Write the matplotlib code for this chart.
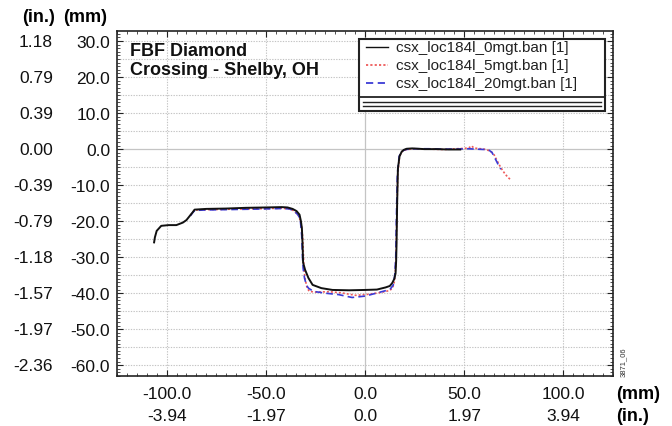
import matplotlib
matplotlib.use("Agg")
import matplotlib.pyplot as plt
from matplotlib.ticker import MultipleLocator
from matplotlib.transforms import blended_transform_factory
from matplotlib.lines import Line2D
from matplotlib.patches import Rectangle

plt.rcParams['font.family'] = ['Liberation Sans', 'DejaVu Sans']

# ---------------- data (mm) ----------------
x_0mgt = [-106.3, -105.9, -105.0, -102.7, -99.0, -95.1, -91.8, -90.0, -88.4, -86.8, -85.9, -80.0,
          -70.0, -60.0, -50.0, -42.0, -39.0, -36.5, -34.5, -33.0, -32.3, -31.8, -31.5, -31.2,
          -30.2, -28.5, -26.4, -22.0, -16.4, -8.0, 0.3, 6.0, 10.4, 12.5, 13.7, 14.8, 15.4, 15.7,
          15.9, 16.2, 16.6, 17.4, 18.5, 19.6, 21.0, 23.8, 30.0, 36.0, 42.0, 48.0]
y_0mgt = [-25.9, -24.5, -22.7, -21.3, -21.1, -21.1, -20.4, -19.7, -18.6, -17.5, -16.8, -16.6,
          -16.5, -16.3, -16.2, -16.1, -16.2, -16.6, -17.2, -18.2, -20.0, -22.0, -26.0, -31.5,
          -33.5, -35.8, -37.7, -38.6, -39.1, -39.2, -39.1, -39.0, -38.4, -38.0, -37.2, -36.0,
          -34.5, -31.0, -26.3, -15.0, -5.4, -2.0, -0.7, -0.2, 0.1, 0.2, 0.0, 0.0, -0.1, -0.1]

x_5mgt = [-88.0, -86.5, -85.5, -80.0, -70.0, -60.0, -50.0, -42.0, -38.0, -35.5, -33.5, -32.2,
          -31.5, -31.0, -30.8, -30.2, -29.2, -28.1, -25.0, -18.1, -12.0, -4.7, 2.0, 8.0, 12.1,
          13.6, 14.6, 15.2, 15.6, 16.0, 16.5, 17.4, 18.8, 21.0, 25.0, 32.0, 40.0, 46.0, 50.0,
          52.5, 53.6, 55.0, 60.0, 63.0, 64.8, 66.2, 67.5, 69.0, 70.7, 72.4, 73.2]
y_5mgt = [-18.4, -17.3, -16.9, -16.8, -16.7, -16.6, -16.5, -16.4, -16.6, -17.2, -18.5, -20.5,
          -24.0, -30.0, -33.0, -36.0, -38.5, -39.5, -39.7, -39.6, -39.9, -40.6, -40.3, -39.8,
          -39.3, -38.8, -37.5, -35.0, -30.0, -20.0, -7.0, -2.0, -0.6, -0.1, 0.1, 0.0, -0.1, 0.1,
          0.2, 0.4, 0.9, 0.3, 0.0, -0.5, -1.3, -2.8, -4.2, -5.6, -7.0, -8.0, -8.4]

x_20mgt = [-88.0, -86.5, -85.5, -80.0, -70.0, -60.0, -50.0, -42.0, -38.0, -35.5, -33.5, -32.5,
           -31.9, -31.5, -31.2, -30.5, -29.5, -28.5, -26.0, -20.0, -13.3, -6.5, 0.2, 5.0, 10.4,
           12.8, 14.2, 15.0, 15.5, 15.8, 16.3, 17.2, 18.5, 20.5, 25.0, 32.0, 40.0, 46.0, 52.0,
           56.0, 60.0, 62.5, 64.0, 65.2, 66.5, 67.6, 68.5]
y_20mgt = [-18.5, -17.4, -17.0, -16.9, -16.8, -16.7, -16.6, -16.5, -16.6, -17.3, -18.4, -20.3,
           -24.0, -30.0, -33.0, -35.8, -37.8, -38.6, -39.5, -40.0, -40.4, -41.2, -40.8, -40.1,
           -39.3, -38.8, -37.8, -35.0, -30.0, -20.0, -7.0, -2.0, -0.6, -0.1, 0.1, 0.1, 0.0, 0.0,
           0.1, 0.0, -0.1, -0.3, -0.9, -2.2, -3.6, -4.8, -5.6]

series_labels = ["csx_loc184l_0mgt.ban [1]", "csx_loc184l_5mgt.ban [1]", "csx_loc184l_20mgt.ban [1]"]

y_ticks_mm = [30, 20, 10, 0, -10, -20, -30, -40, -50, -60]
y_ticks_in = ["1.18", "0.79", "0.39", "0.00", "-0.39", "-0.79", "-1.18", "-1.57", "-1.97", "-2.36"]
x_ticks_mm = [-100, -50, 0, 50, 100]
x_ticks_in = ["-3.94", "-1.97", "0.0", "1.97", "3.94"]

title_text = "FBF Diamond\nCrossing - Shelby, OH"
stamp_text = "3871_06"

# ---------------- figure ----------------
fig = plt.figure(figsize=(6.72, 4.27), dpi=100)
W, H = 672, 427
ax_l, ax_r, ax_t, ax_b = 117, 613, 32, 377
ax = fig.add_axes([ax_l / W, (H - ax_b) / H, (ax_r - ax_l) / W, (ax_b - ax_t) / H])

ax.set_xlim(-125, 125)
ax.set_ylim(-63.0, 32.8)

# grid
grid_c = '#c4c4c4'
for gy in range(-60, 35, 5):
    if gy == 0:
        ax.axhline(gy, color=grid_c, lw=0.9, ls='-', zorder=0)
    else:
        ax.axhline(gy, color=grid_c, lw=0.8, ls=(0, (1.2, 1.2)), zorder=0)
for gx in [-100, -50, 0, 50, 100]:
    if gx == 0:
        ax.axvline(gx, color=grid_c, lw=0.9, ls='-', zorder=0)
    else:
        ax.axvline(gx, color=grid_c, lw=0.8, ls=(0, (1.2, 1.2)), zorder=0)

# data lines
c_black = '#111111'
c_red = '#ee5a5a'
c_blue = '#3b3bd6'
ax.plot(x_5mgt, y_5mgt, color=c_red, lw=1.2, ls=(0, (1.2, 1.2)), zorder=3)
ax.plot(x_20mgt, y_20mgt, color=c_blue, lw=1.2, ls=(0, (4, 2.5)), zorder=4)
ax.plot(x_0mgt, y_0mgt, color=c_black, lw=1.4, ls='-', zorder=5)

# ticks
ax.set_xticks(x_ticks_mm)
ax.set_xticklabels([f"{v:.1f}" for v in x_ticks_mm])
ax.set_yticks(y_ticks_mm)
ax.set_yticklabels([f"{v:.1f}" for v in y_ticks_mm])
ax.xaxis.set_minor_locator(MultipleLocator(5))
ax.yaxis.set_minor_locator(MultipleLocator(1))
ax.tick_params(axis='both', which='major', direction='in', length=4, width=0.8,
               labelsize=12.5, top=True, right=True, colors='#222222', labelcolor='#111111')
ax.tick_params(axis='both', which='minor', direction='in', length=2.5, width=0.6,
               top=True, right=True, colors='#333333')
ax.tick_params(axis='y', which='major', pad=5)
ax.tick_params(axis='x', which='major', pad=7)
for s in ax.spines.values():
    s.set_linewidth(1.2)
    s.set_color('#222222')

# inch labels
ty = blended_transform_factory(ax.transAxes, ax.transData)
x_in_col = (53 - ax_l) / (ax_r - ax_l)
for v, lab in zip(y_ticks_mm, y_ticks_in):
    ax.text(x_in_col, v, lab, transform=ty, ha='right', va='center', fontsize=12.5,
            color='#111111', clip_on=False)
tx = blended_transform_factory(ax.transData, ax.transAxes)
y_in_row = (ax_b - 417) / (ax_b - ax_t)
for v, lab in zip(x_ticks_mm, x_ticks_in):
    ax.text(v, y_in_row, lab, transform=tx, ha='center', va='center', fontsize=12.5,
            color='#111111', clip_on=False)

# unit labels (figure pixel coords)
def fx(px):
    return px / W
def fy(py):
    return (H - py) / H
fig.text(fx(22), fy(18), "(in.)", fontsize=13, fontweight='bold', ha='left', va='center')
fig.text(fx(63), fy(18), "(mm)", fontsize=13, fontweight='bold', ha='left', va='center')
fig.text(fx(616), fy(395), "(mm)", fontsize=13, fontweight='bold', ha='left', va='center')
fig.text(fx(616), fy(417), "(in.)", fontsize=13, fontweight='bold', ha='left', va='center')
fig.text(fx(623), fy(362), stamp_text, fontsize=5.5, rotation=90, ha='center', va='center',
         color='#333333')

# title inside
fig.text(fx(130), fy(43), title_text, fontsize=13, fontweight='bold', ha='left', va='top',
         linespacing=1.15, color='#111111')

# legend box (manual)
lg_l, lg_r, lg_t, lg_sep, lg_b = 359, 605, 40, 98, 112
fig.patches.append(Rectangle((fx(lg_l), fy(lg_b)), fx(lg_r) - fx(lg_l), fy(lg_t) - fy(lg_b),
                             transform=fig.transFigure, facecolor='white', edgecolor='#222222',
                             lw=1.5, zorder=10))
fig.lines.append(Line2D([fx(lg_l), fx(lg_r)], [fy(lg_sep), fy(lg_sep)], transform=fig.transFigure,
                        color='#222222', lw=1.3, zorder=11))
for yy in [102.7, 106.7]:
    fig.lines.append(Line2D([fx(363), fx(601)], [fy(yy), fy(yy)], transform=fig.transFigure,
                            color='#222222', lw=1.0, zorder=11))
styles = [dict(color=c_black, ls='-', lw=1.0),
          dict(color=c_red, ls=(0, (1.2, 1.2)), lw=1.3),
          dict(color=c_blue, ls=(0, (4, 2.5)), lw=1.3)]
rows = [48, 66, 84]
for ry, lab, st in zip(rows, series_labels, styles):
    fig.lines.append(Line2D([fx(366), fx(388)], [fy(ry), fy(ry)], transform=fig.transFigure,
                            zorder=11, **st))
    fig.text(fx(396), fy(ry), lab, fontsize=11, ha='left', va='center', color='#222222', zorder=12)

fig.savefig("out.png", dpi=100)
